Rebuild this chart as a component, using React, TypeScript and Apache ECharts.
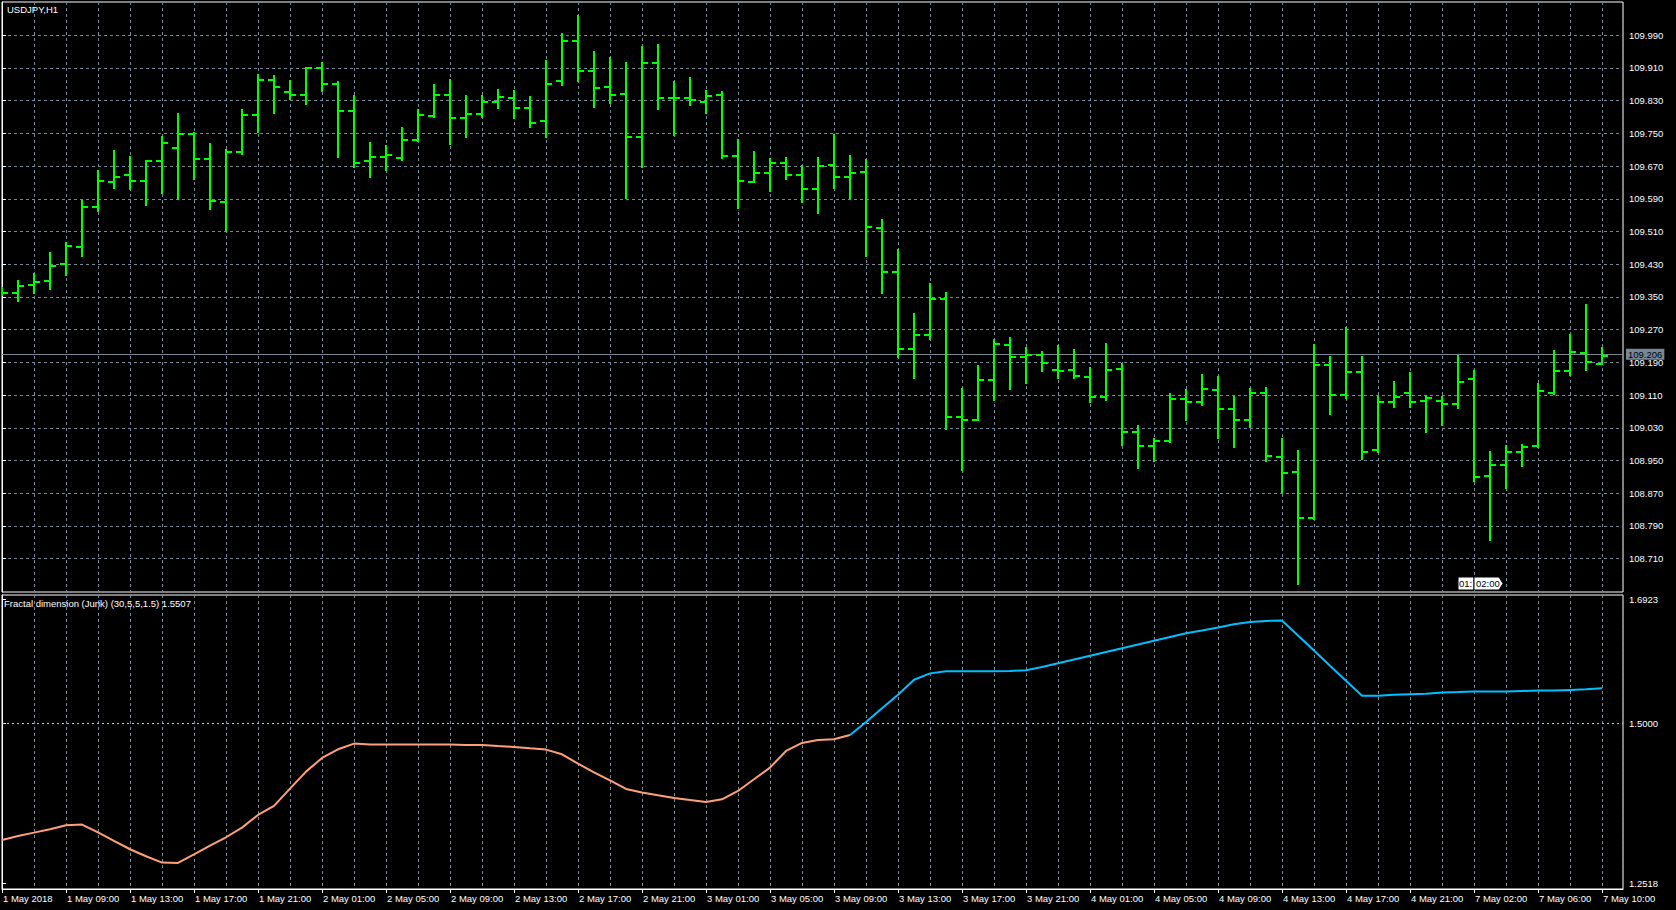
import React, { useEffect, useRef } from "react";
import * as echarts from "echarts";

// ---- Data ----
const symbolTitle = "USDJPY,H1";
const indicatorTitle = "Fractal dimension (Jurik) (30,5,5,1.5) 1.5507";

const tickLabels = [
  "1 May 2018", "1 May 09:00", "1 May 13:00", "1 May 17:00", "1 May 21:00",
  "2 May 01:00", "2 May 05:00", "2 May 09:00", "2 May 13:00", "2 May 17:00", "2 May 21:00",
  "3 May 01:00", "3 May 05:00", "3 May 09:00", "3 May 13:00", "3 May 17:00", "3 May 21:00",
  "4 May 01:00", "4 May 05:00", "4 May 09:00", "4 May 13:00", "4 May 17:00", "4 May 21:00",
  "7 May 02:00", "7 May 06:00", "7 May 10:00",
];

const priceTicks = [
  108.71, 108.79, 108.87, 108.95, 109.03, 109.11, 109.19, 109.27, 109.35,
  109.43, 109.51, 109.59, 109.67, 109.75, 109.83, 109.91, 109.99,
];
const fdTicks = [1.2518, 1.5, 1.6923];
const fdLevel = 1.5;
const lastPrice = 109.206;

const openP = [
  109.365, 109.359, 109.379, 109.389, 109.431, 109.473, 109.570, 109.631, 109.647, 109.634,
  109.683, 109.713, 109.748, 109.688, 109.583, 109.705, 109.796, 109.880, 109.852, 109.844,
  109.910, 109.871, 109.805, 109.682, 109.693, 109.690, 109.734, 109.792, 109.844, 109.788,
  109.797, 109.827, 109.836, 109.812, 109.780, 109.878, 109.976, 109.902, 109.863, 109.846,
  109.741, 109.922, 109.836, 109.836, 109.827, 109.844, 109.695, 109.632, 109.652, 109.678,
  109.649, 109.615, 109.673, 109.644, 109.656, 109.519, 109.412, 109.223, 109.257, 109.346,
  109.057, 109.049, 109.148, 109.233, 109.202, 109.207, 109.171, 109.171, 109.155, 109.106,
  109.175, 109.020, 108.985, 108.997, 109.101, 109.094, 109.123, 109.075, 109.050, 109.114,
  108.958, 108.921, 108.809, 109.184, 109.111, 109.167, 108.975, 109.092, 109.114, 109.095,
  109.095, 109.088, 109.149, 108.912, 108.938, 108.970, 108.985, 109.116, 109.169, 109.213,
  109.187,
];
const highP = [
  109.372, 109.390, 109.406, 109.457, 109.481, 109.584, 109.657, 109.706, 109.691, 109.683,
  109.740, 109.797, 109.752, 109.723, 109.709, 109.806, 109.892, 109.890, 109.878, 109.911,
  109.921, 109.876, 109.842, 109.726, 109.719, 109.763, 109.807, 109.868, 109.880, 109.841,
  109.841, 109.856, 109.854, 109.839, 109.927, 109.993, 110.037, 109.949, 109.934, 109.922,
  109.961, 109.966, 109.876, 109.885, 109.854, 109.852, 109.735, 109.704, 109.687, 109.689,
  109.669, 109.689, 109.746, 109.694, 109.684, 109.538, 109.465, 109.308, 109.382, 109.360,
  109.125, 109.180, 109.245, 109.250, 109.225, 109.215, 109.230, 109.220, 109.176, 109.235,
  109.187, 109.035, 109.003, 109.113, 109.123, 109.159, 109.154, 109.105, 109.125, 109.128,
  109.003, 108.973, 109.232, 109.203, 109.274, 109.203, 109.105, 109.142, 109.164, 109.109,
  109.106, 109.205, 109.169, 108.972, 108.986, 108.989, 109.136, 109.219, 109.258, 109.330,
  109.226,
];
const lowP = [
  109.355, 109.340, 109.360, 109.370, 109.404, 109.451, 109.559, 109.617, 109.614, 109.574,
  109.605, 109.589, 109.639, 109.564, 109.511, 109.699, 109.754, 109.801, 109.834, 109.823,
  109.854, 109.693, 109.667, 109.644, 109.660, 109.686, 109.731, 109.791, 109.724, 109.742,
  109.789, 109.812, 109.787, 109.765, 109.742, 109.868, 109.878, 109.814, 109.824, 109.592,
  109.668, 109.810, 109.746, 109.819, 109.800, 109.689, 109.568, 109.632, 109.610, 109.638,
  109.581, 109.555, 109.617, 109.593, 109.451, 109.359, 109.204, 109.153, 109.248, 109.026,
  108.927, 109.049, 109.098, 109.126, 109.139, 109.170, 109.153, 109.153, 109.094, 109.099,
  108.989, 108.931, 108.950, 108.995, 109.048, 109.086, 109.004, 108.982, 109.032, 108.950,
  108.872, 108.648, 108.806, 109.065, 109.104, 108.955, 108.972, 109.082, 109.082, 109.020,
  109.038, 109.078, 108.900, 108.756, 108.882, 108.937, 108.983, 109.112, 109.160, 109.171,
  109.185,
];
const closeP = [
  109.360, 109.378, 109.387, 109.426, 109.475, 109.570, 109.634, 109.644, 109.634, 109.682,
  109.727, 109.748, 109.688, 109.585, 109.705, 109.796, 109.880, 109.863, 109.845, 109.910,
  109.871, 109.805, 109.678, 109.693, 109.696, 109.734, 109.796, 109.844, 109.788, 109.797,
  109.827, 109.839, 109.812, 109.775, 109.871, 109.976, 109.902, 109.861, 109.844, 109.741,
  109.922, 109.836, 109.836, 109.832, 109.841, 109.695, 109.634, 109.652, 109.677, 109.649,
  109.615, 109.669, 109.644, 109.652, 109.522, 109.412, 109.223, 109.257, 109.346, 109.057,
  109.049, 109.148, 109.236, 109.202, 109.209, 109.189, 109.169, 109.157, 109.106, 109.171,
  109.020, 108.986, 108.997, 109.101, 109.094, 109.126, 109.077, 109.050, 109.114, 108.960,
  108.919, 108.809, 109.184, 109.111, 109.167, 108.972, 109.092, 109.106, 109.094, 109.103,
  109.088, 109.142, 108.911, 108.938, 108.970, 108.984, 109.119, 109.169, 109.215, 109.191,
  109.206,
];

const fractalDim = [
  1.3191, 1.3253, 1.3304, 1.3356, 1.3418, 1.3429, 1.3309, 1.3175, 1.3046, 1.2937,
  1.2839, 1.2834, 1.2968, 1.3103, 1.3232, 1.3382, 1.3578, 1.3718, 1.3987, 1.4250,
  1.4462, 1.4597, 1.4685, 1.4669, 1.4669, 1.4669, 1.4669, 1.4669, 1.4669, 1.4664,
  1.4664, 1.4648, 1.4633, 1.4612, 1.4592, 1.4519, 1.4374, 1.4240, 1.4116, 1.3982,
  1.3925, 1.3883, 1.3842, 1.3811, 1.3780, 1.3821, 1.3950, 1.4131, 1.4312, 1.4571,
  1.4695, 1.4741, 1.4752, 1.4819, 1.5019, 1.5233, 1.5444, 1.5675, 1.5774, 1.5808,
  1.5808, 1.5808, 1.5808, 1.5810, 1.5824, 1.5873, 1.5932, 1.5990, 1.6048, 1.6106,
  1.6165, 1.6222, 1.6280, 1.6338, 1.6396, 1.6438, 1.6487, 1.6537, 1.6570, 1.6587,
  1.6594, 1.6362, 1.6128, 1.5893, 1.5661, 1.5427, 1.5427, 1.5444, 1.5452, 1.5459,
  1.5476, 1.5484, 1.5493, 1.5493, 1.5493, 1.5501, 1.5509, 1.5509, 1.5518, 1.5526,
  1.5543,
];
const fdColorSwitch = 53; // bars after this index drawn in the "rising" colour

// ---- Styling constants ----
const FONT = '"Liberation Sans", Arial, sans-serif';
const GRID_COLOR = "#778899";
const BAR_COLOR = "#00ff00";
const FD_DOWN_COLOR = "#ffa07a";
const FD_UP_COLOR = "#00bfff";

const X_MAX = 101.3125;
const PRICE_MIN = 108.6286;
const PRICE_MAX = 110.0712;
const FD_MIN = 1.24296;
const FD_MAX = 1.69897;

export default function App() {
  const ref = useRef<HTMLDivElement>(null);

  useEffect(() => {
    if (!ref.current) return;
    const chart = echarts.init(ref.current, null, { renderer: "svg" });

    const ohlc = openP.map((o, i) => [i, o, highP[i], lowP[i], closeP[i]]);
    const fdDown = fractalDim.map((v, i) => [i, i <= fdColorSwitch ? v : null]);
    const fdUp = fractalDim.map((v, i) => [i, i >= fdColorSwitch ? v : null]);
    const labelPositions = tickLabels.map((_, k) => k * 4);

    const dashed = { color: GRID_COLOR, type: [3, 3] as number[], width: 1 };

    const option: any = {
      animation: false,
      backgroundColor: "#000",
      textStyle: { fontFamily: FONT },
      grid: [
        { left: 2, top: 2, width: 1621, height: 590, show: true, borderColor: "#fff", borderWidth: 1 },
        { left: 2, top: 595, width: 1621, height: 294, show: true, borderColor: "#fff", borderWidth: 1 },
      ],
      xAxis: [
        {
          type: "value", gridIndex: 0, min: 0, max: X_MAX, interval: 2,
          axisLine: { show: false }, axisTick: { show: false }, axisLabel: { show: false },
          splitLine: { show: true, lineStyle: dashed },
        },
        {
          type: "value", gridIndex: 1, min: 0, max: X_MAX, interval: 2, position: "top",
          axisLine: { show: false }, axisTick: { show: false }, axisLabel: { show: false },
          splitLine: { show: true, lineStyle: dashed },
        },
        {
          type: "value", gridIndex: 1, min: 0, max: X_MAX, position: "bottom",
          axisLine: { show: true, lineStyle: { color: "#fff", width: 1 } },
          axisTick: { show: true, customValues: labelPositions, length: 4, lineStyle: { color: "#fff" } },
          axisLabel: {
            show: true, customValues: labelPositions, color: "#fff", fontSize: 9.5, fontFamily: FONT,
            align: "left", margin: 4, padding: [0, 0, 0, 1], hideOverlap: false,
            formatter: (v: number) => tickLabels[Math.round(v / 4)] ?? "",
          },
          splitLine: { show: false },
        },
      ],
      yAxis: [
        {
          type: "value", gridIndex: 0, position: "right", min: PRICE_MIN, max: PRICE_MAX,
          axisLine: { show: true, lineStyle: { color: "#fff" } },
          axisTick: { show: true, customValues: priceTicks, length: 4, lineStyle: { color: "#fff" } },
          axisLabel: {
            show: true, customValues: priceTicks, color: "#fff", fontSize: 9.5, fontFamily: FONT, margin: 6,
            formatter: (v: number) => v.toFixed(3),
          },
          splitLine: { show: true, lineStyle: dashed },
        },
        {
          type: "value", gridIndex: 1, position: "right", min: FD_MIN, max: FD_MAX,
          axisLine: { show: true, lineStyle: { color: "#fff" } },
          axisTick: { show: true, customValues: fdTicks, length: 4, lineStyle: { color: "#fff" } },
          axisLabel: {
            show: true, customValues: fdTicks, color: "#fff", fontSize: 9.5, fontFamily: FONT, margin: 6,
            formatter: (v: number) => v.toFixed(4),
          },
          splitLine: { show: false },
        },
      ],
      series: [
        {
          type: "custom",
          xAxisIndex: 0, yAxisIndex: 0,
          clip: true,
          data: ohlc,
          renderItem: (_params: any, api: any) => {
            const x = api.value(0);
            const o = api.coord([x, api.value(1)]);
            const h = api.coord([x, api.value(2)]);
            const l = api.coord([x, api.value(3)]);
            const c = api.coord([x, api.value(4)]);
            const cx = Math.round(h[0]);
            const style = { stroke: BAR_COLOR, lineWidth: 2 };
            return {
              type: "group",
              children: [
                { type: "line", shape: { x1: cx, y1: Math.round(h[1]) - 1, x2: cx, y2: Math.round(l[1]) + 1 }, style },
                { type: "line", shape: { x1: cx - 6, y1: Math.round(o[1]), x2: cx, y2: Math.round(o[1]) }, style },
                { type: "line", shape: { x1: cx, y1: Math.round(c[1]), x2: cx + 6, y2: Math.round(c[1]) }, style },
              ],
            };
          },
          markLine: {
            silent: true, symbol: "none", animation: false,
            lineStyle: { color: GRID_COLOR, type: "solid", width: 1 },
            label: {
              show: true, position: "end", distance: 3,
              formatter: () => lastPrice.toFixed(3),
              backgroundColor: "#778899", color: "#000", fontSize: 9.5, fontFamily: FONT,
              padding: [1, 2, 0, 2],
            },
            data: [{ yAxis: lastPrice }],
          },
          z: 5,
        },
        {
          type: "line",
          xAxisIndex: 1, yAxisIndex: 1,
          data: fdDown,
          showSymbol: false, connectNulls: false,
          lineStyle: { color: FD_DOWN_COLOR, width: 2 },
          itemStyle: { color: FD_DOWN_COLOR },
          markLine: {
            silent: true, symbol: "none", animation: false,
            lineStyle: { color: "#c8c8c8", type: [2, 3], width: 1 },
            label: { show: false },
            data: [{ yAxis: fdLevel }],
          },
          z: 3,
        },
        {
          type: "line",
          xAxisIndex: 1, yAxisIndex: 1,
          data: fdUp,
          showSymbol: false, connectNulls: false,
          lineStyle: { color: FD_UP_COLOR, width: 2 },
          itemStyle: { color: FD_UP_COLOR },
          z: 3,
        },
      ],
      graphic: [
        {
          type: "text", left: 7, top: 4, z: 10,
          style: { text: symbolTitle, fill: "#fff", font: `9.5px ${FONT}` },
        },
        {
          type: "text", left: 4, top: 598, z: 10,
          style: { text: indicatorTitle, fill: "#fff", font: `9.5px ${FONT}` },
        },
        {
          type: "group", z: 10,
          children: [
            { type: "rect", shape: { x: 1458, y: 577, width: 16, height: 13 }, style: { fill: "#fff", stroke: "#000", lineWidth: 1 } },
            { type: "text", x: 1459, y: 583.5, style: { text: "01:", fill: "#000", font: `9.5px ${FONT}`, verticalAlign: "middle" } },
            {
              type: "polygon",
              shape: { points: [[1474, 577], [1499, 577], [1503, 583.5], [1499, 590], [1474, 590]] },
              style: { fill: "#fff", stroke: "#000", lineWidth: 1 },
            },
            { type: "text", x: 1476, y: 583.5, style: { text: "02:00", fill: "#000", font: `9.5px ${FONT}`, verticalAlign: "middle" } },
          ],
        },
      ],
    };

    chart.setOption(option);
    return () => chart.dispose();
  }, []);

  return (
    <div
      ref={ref}
      style={{ position: "fixed", left: 0, top: 0, width: 1676, height: 910, background: "#000" }}
    />
  );
}
